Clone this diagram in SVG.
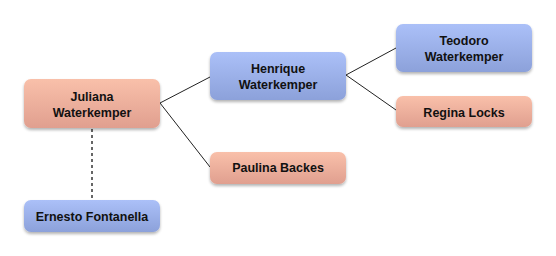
<svg xmlns="http://www.w3.org/2000/svg" width="556" height="256" viewBox="0 0 556 256">
<defs>
<linearGradient id="gBlue" x1="0" y1="0" x2="0" y2="1">
<stop offset="0" stop-color="#abc0f8"/>
<stop offset="1" stop-color="#8ca1da"/>
</linearGradient>
<linearGradient id="gRed" x1="0" y1="0" x2="0" y2="1">
<stop offset="0" stop-color="#f9c0aa"/>
<stop offset="1" stop-color="#e09f8f"/>
</linearGradient>
<filter id="sh" x="-10%" y="-20%" width="120%" height="150%">
<feGaussianBlur in="SourceAlpha" stdDeviation="1.5"/>
<feOffset dy="1.5" result="b"/>
<feComponentTransfer><feFuncA type="linear" slope="0.3"/></feComponentTransfer>
<feMerge><feMergeNode/><feMergeNode in="SourceGraphic"/></feMerge>
</filter>
</defs>
<style>
.blue{fill:url(#gBlue);filter:url(#sh)}
.red{fill:url(#gRed);filter:url(#sh)}
text{font-family:"Liberation Sans",Arial,sans-serif;font-weight:bold;font-size:12.5px;fill:#111;text-anchor:middle}
.c{stroke:#222;stroke-width:1;fill:none}
.d{stroke:#666;stroke-width:2;stroke-dasharray:3,3;fill:none}
</style>
<rect width="556" height="256" fill="#fff"/>
<g id="connectors">
<path class="c" d="M160,103 L210,77"/>
<path class="c" d="M160,103 L210,167"/>
<path class="c" d="M346,75 L396,48"/>
<path class="c" d="M346,75 L396,110"/>
<path class="d" d="M92,129 L92,200"/>
</g>
<g id="juliana">
<rect class="red" x="24" y="79" width="136" height="49" rx="7"/>
<text x="92" y="101">Juliana</text>
<text x="92" y="117">Waterkemper</text>
</g>
<g id="ernesto">
<rect class="blue" x="24" y="200" width="136" height="32" rx="7"/>
<text x="92" y="221">Ernesto Fontanella</text>
</g>
<g id="henrique">
<rect class="blue" x="210" y="52" width="136" height="48" rx="7"/>
<text x="278" y="73">Henrique</text>
<text x="278" y="89">Waterkemper</text>
</g>
<g id="paulina">
<rect class="red" x="210" y="152" width="136" height="32" rx="7"/>
<text x="278" y="172">Paulina Backes</text>
</g>
<g id="teodoro">
<rect class="blue" x="396" y="24" width="136" height="48" rx="7"/>
<text x="464" y="45">Teodoro</text>
<text x="464" y="61">Waterkemper</text>
</g>
<g id="regina">
<rect class="red" x="396" y="96" width="136" height="31" rx="7"/>
<text x="464" y="117">Regina Locks</text>
</g>
</svg>
